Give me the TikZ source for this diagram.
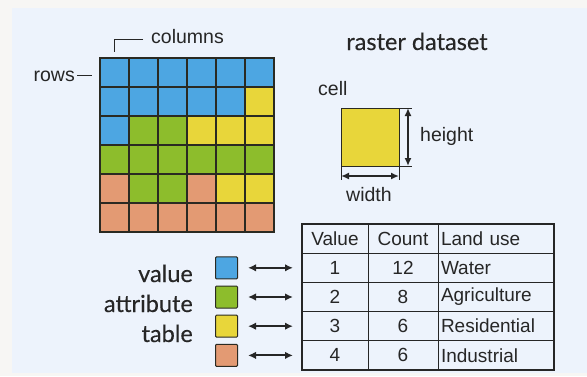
\documentclass[tikz,border=0pt]{standalone}
\usepackage{fontspec}
\setmainfont{Liberation Sans}
\newfontfamily\gillfont{Lato}[FakeBold=0.25]
\usetikzlibrary{positioning,calc,arrows.meta,backgrounds}
\definecolor{cW}{HTML}{4DA6E2}
\definecolor{cA}{HTML}{8DBD2C}
\definecolor{cR}{HTML}{E8D63A}
\definecolor{cI}{HTML}{E39A73}
\definecolor{RDpanel}{HTML}{EDF3FC}
\definecolor{RDpage}{HTML}{F7F6F4}
\definecolor{RDink}{HTML}{262626}
\definecolor{RDgrid}{HTML}{2A2A22}

\begin{document}
\begin{tikzpicture}[x=1pt, y=-1pt,
  every node/.style={text=RDink, inner sep=0pt},
  lbl/.style={font=\fontsize{19.5}{22}\selectfont},
  gill/.style={font=\gillfont\fontsize{23.5}{30}\selectfont},
  pix/.style={draw=RDgrid, line width=1.3pt, minimum size=29pt, outer sep=0pt},
  key/.style={draw=RDgrid, line width=1pt, rounded corners=1pt, minimum size=22pt},
  tcell/.style={draw=RDink, line width=0.9pt, minimum height=29.2pt, outer sep=0pt,
                font=\fontsize{19}{22}\selectfont},
  colA/.style={tcell, minimum width=66pt},
  colB/.style={tcell, minimum width=70pt},
  colC/.style={tcell, text width=110pt, inner xsep=3pt, align=left},
  tick/.style={draw=RDink, line width=0.6pt},
  dim/.style={{Latex[length=8pt,width=7pt]}-{Latex[length=8pt,width=7pt]}, draw=RDink, line width=1.6pt},
  link/.style={{Latex[length=8pt,width=7.5pt]}-{Latex[length=8pt,width=7.5pt]}, draw=RDink, line width=1.9pt,
               shorten <=10pt, shorten >=9pt}]
\fill[RDpage] (0,0) rectangle (587,376);
\fill[RDpanel] (12,8) rectangle (587,373);
\useasboundingbox (0,0) rectangle (587,376);
% raster grid
\foreach \cols [count=\r from 0] in {{W,W,W,W,W,W},{W,W,W,W,W,R},{W,A,A,R,R,R},
                                     {A,A,A,A,A,A},{I,A,A,I,R,R},{I,I,I,I,I,I}}
  \foreach \c [count=\k from 0] in \cols
    \node[pix, fill=c\c, anchor=north west] (px-\r-\k) at (100+29*\k, 58+29*\r) {};
\node[lbl, anchor=base west] (colslbl) at (151,43) {columns};
\coordinate (colstick) at (114,52);
\draw[tick] (143,39) coordinate (colsend) -| (colstick);
\node[lbl, anchor=base east] (rowslbl) at (75,81) {rows};
\coordinate (rowstick) at (92,75);
\draw[tick] (77,75) coordinate (rowsend) -- (rowstick);
% single cell
\node[gill, anchor=base] (title) at (417,50) {raster dataset};
\node[lbl, anchor=base west] (celllbl) at (318,95) {cell};
\node[pix, fill=cR, minimum size=58pt, line width=1pt, anchor=north west] (cell) at (341,108) {};
\draw[tick] (cell.north east) -- ++(13,0);
\draw[tick] (cell.south east) -- ++(13,0);
\draw[tick] (cell.south west) -- ++(0,14);
\draw[tick] (cell.south east) -- ++(0,14);
\draw[dim] ([xshift=9pt]cell.north east) -- ([xshift=9pt]cell.south east);
\draw[dim] ([yshift=-10pt]cell.south west) -- ([yshift=-10pt]cell.south east);
\node[lbl, anchor=base west] (heightlbl) at (420,141) {height};
\node[lbl, anchor=base] (widthlbl) at (369,201) {width};
% attribute table
\node[colA, anchor=north west] (h-a) at (302,224) {Value};
\node[colB, right=0pt of h-a] (h-b) {Count};
\node[colC, right=0pt of h-b] (h-c) {Land use};
\foreach \v/\n/\u [count=\i] in {1/12/Water, 2/8/Agriculture, 3/6/Residential, 4/6/Industrial} {
  \node[colA, anchor=north west] (r\i-a) at (302, 224+29.2*\i) {\v};
  \node[colB, right=0pt of r\i-a] (r\i-b) {\n};
  \node[colC, right=0pt of r\i-b] (r\i-c) {\u};
}
\draw[line width=1.8pt, draw=RDink] (h-a.north west) rectangle (r4-c.south east);
% legend keys
\foreach \c [count=\i] in {W,A,R,I} {
  \node[key, fill=c\c, left=64pt of r\i-a] (key\i) {};
  \draw[link] (key\i) -- (r\i-a);
}
\node[gill, anchor=base east] (valuelbl) at (193,282) {value};
\node[gill, anchor=base east] (attrlbl) at (193,312) {attribute};
\node[gill, anchor=base east] (tablelbl) at (193,342) {table};
\end{tikzpicture}
\end{document}
